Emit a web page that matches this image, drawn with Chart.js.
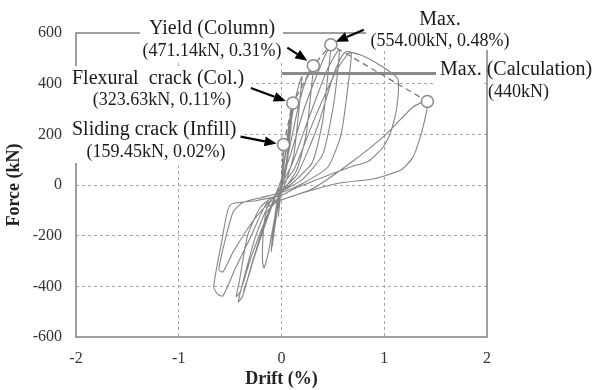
<!DOCTYPE html>
<html>
<head>
<meta charset="utf-8">
<script src="https://cdn.jsdelivr.net/npm/chart.js@4.4.1/dist/chart.umd.min.js"></script>
<style>
  html, body { margin: 0; padding: 0; background: #fff; }
</style>
</head>
<body>
<canvas id="forceDrift" width="600" height="390"></canvas>
<script>
// axis ticks
const xTicks = [-2, -1, 0, 1, 2];
const yTicks = [-600, -400, -200, 0, 200, 400, 600];

// cyclic test record, drift (%) vs. lateral force (kN)
const hysDrift = [
  0,
  0.01, 0.02, 0.012, 0.0, -0.015, -0.03, -0.02, -0.005,
  0.04, 0.08, 0.11, 0.09, 0.05, 0.0, -0.05, -0.09, -0.1, -0.08, -0.04, 0.0,
  0.05, 0.09, 0.1, 0.07, 0.03, -0.02, -0.07, -0.09, -0.06, -0.01,
  0.06, 0.13, 0.18, 0.2, 0.17, 0.12, 0.04, -0.06, -0.15, -0.18, -0.185, -0.17, -0.13, -0.08, -0.02,
  0.07, 0.17, 0.26, 0.31, 0.29, 0.24, 0.15, 0.03, -0.1, -0.22, -0.32, -0.37, -0.35, -0.28, -0.16, -0.05,
  0.08, 0.22, 0.38, 0.48, 0.45, 0.4, 0.3, 0.1, -0.1, -0.25, -0.36, -0.42, -0.38, -0.3, -0.17, -0.04,
  0.1, 0.28, 0.45, 0.56, 0.55, 0.5, 0.4, 0.2, 0.0, -0.2, -0.33, -0.41, -0.44, -0.4, -0.3, -0.15, -0.03,
  0.12, 0.32, 0.52, 0.64, 0.68, 0.65, 0.58, 0.45, 0.2, 0.0, -0.2, -0.38, -0.47, -0.55, -0.61, -0.57, -0.47, -0.27, -0.1, 0.0,
  0.15, 0.35, 0.52, 0.62, 0.77, 0.95, 1.13, 1.12, 1.06, 0.99, 0.85, 0.67, 0.4, 0.15, 0.0, -0.25, -0.5, -0.58, -0.66, -0.62, -0.57, -0.45, -0.3, -0.14, 0.0,
  0.3, 0.67, 1.01, 1.28, 1.42, 1.37, 1.28, 1.16, 0.9, 0.57, 0.3, 0.0, -0.15
];
const hysForce = [
  0,
  80, 159, 70, 5, -60, -125, -60, 0,
  130, 250, 324, 220, 70, -15, -120, -230, -262, -170, -60, 10,
  170, 290, 310, 170, 40, -50, -180, -240, -120, -10,
  170, 330, 410, 428, 300, 120, 10, -70, -110, -200, -300, -327, -270, -160, -30,
  130, 320, 440, 471, 380, 200, 60, -15, -90, -220, -360, -420, -400, -300, -150, -30,
  110, 300, 470, 554, 430, 250, 90, 5, -60, -200, -360, -461, -440, -330, -170, -30,
  80, 280, 460, 535, 460, 300, 120, 20, -25, -85, -200, -380, -440, -420, -290, -130, -20,
  60, 260, 440, 515, 522, 400, 200, 70, 5, -30, -50, -70, -106, -220, -335, -343, -264, -138, -60, -20,
  40, 230, 450, 525, 513, 475, 420, 300, 205, 150, 95, 71, 30, -10, -40, -62, -79, -220, -402, -432, -438, -330, -205, -70, -58,
  -15, 87, 197, 308, 330, 217, 110, 59, 25, 8, -20, -59, -90
];

// skeleton (envelope) points
const envDrift = [0, 0.02, 0.11, 0.31, 0.48, 1.42];
const envForce = [0, 159.45, 323.63, 471.14, 554.00, 330];

// labelled damage states
const eventNames = ['Sliding crack (Infill)', 'Flexural  crack (Col.)', 'Yield (Column)', 'Max.'];
const eventDrift = [0.02, 0.11, 0.31, 0.48];
const eventForce = [159.45, 323.63, 471.14, 554.00];

// calculated capacity
const calcForce = 440;
const calcDrift = [0, 1.53];

const pts = (xs, ys) => xs.map((v, i) => ({ x: v, y: ys[i] }));
const serif = 'Liberation Serif';

const notesPlugin = {
  id: 'notes',
  afterDatasetsDraw(chart) {
    const { ctx, chartArea: a, scales: { x, y } } = chart;
    ctx.save();

    // plot frame
    ctx.strokeStyle = '#808080';
    ctx.lineWidth = 1.5;
    ctx.strokeRect(a.left, a.top, a.right - a.left, a.bottom - a.top);

    // white backing behind the callouts
    ctx.fillStyle = '#fff';
    [[140, 14, 143, 47], [366, 4, 148, 46], [436, 55, 48, 43],
     [66, 66, 186, 49], [66, 115, 178, 48]].forEach(b => ctx.fillRect(b[0], b[1], b[2], b[3]));

    const stat = i => '(' + eventForce[i].toFixed(2) + 'kN, ' + eventDrift[i].toFixed(2) + '%)';
    const big = '20px "' + serif + '"';
    const small = '18px "' + serif + '"';
    ctx.fillStyle = '#1a1a1a';
    ctx.textBaseline = 'alphabetic';

    ctx.textAlign = 'center';
    ctx.font = big;
    ctx.fillText(eventNames[2], 212, 34);
    ctx.fillText(eventNames[3], 440, 25);
    ctx.font = small;
    ctx.fillText(stat(2), 212, 56);
    ctx.fillText(stat(3), 440, 46);
    ctx.fillText(stat(1), 162, 105);
    ctx.fillText(stat(0), 156, 157);

    ctx.textAlign = 'left';
    ctx.font = big;
    ctx.fillText(eventNames[1], 72, 84);
    ctx.fillText(eventNames[0], 72, 135);
    ctx.fillText('Max. (Calculation)', 440, 75);
    ctx.font = small;
    ctx.fillText('(' + calcForce + 'kN)', 488, 97);

    // arrows pointing at the labelled markers
    const arrows = [[-7, -1, -43, -8], [-7, -2, -42, -15], [-6, -5, -26, -18], [5, -3, 33, -15]];
    ctx.strokeStyle = '#000';
    ctx.fillStyle = '#000';
    ctx.lineWidth = 2.2;
    arrows.forEach((o, i) => {
      const px = x.getPixelForValue(eventDrift[i]);
      const py = y.getPixelForValue(eventForce[i]);
      const tx = px + o[0], ty = py + o[1];
      const sx = px + o[2], sy = py + o[3];
      const ang = Math.atan2(ty - sy, tx - sx);
      const hl = 12, hw = 5;
      const bx = tx - hl * Math.cos(ang), by = ty - hl * Math.sin(ang);
      ctx.beginPath();
      ctx.moveTo(sx, sy);
      ctx.lineTo(bx, by);
      ctx.stroke();
      ctx.beginPath();
      ctx.moveTo(tx, ty);
      ctx.lineTo(bx + hw * Math.sin(ang), by - hw * Math.cos(ang));
      ctx.lineTo(bx - hw * Math.sin(ang), by + hw * Math.cos(ang));
      ctx.closePath();
      ctx.fill();
    });
    ctx.restore();
  }
};

const gridColor = (ends) => c => ends.includes(c.tick.value) ? 'rgba(0,0,0,0)' : '#a8a8a8';

new Chart(document.getElementById('forceDrift'), {
  type: 'scatter',
  data: {
    datasets: [
      {
        label: 'markers',
        data: pts(envDrift.slice(1), envForce.slice(1)),
        showLine: false,
        pointRadius: 6,
        pointBackgroundColor: '#fff',
        pointBorderColor: '#8c8c8c',
        pointBorderWidth: 1.5,
        order: 0
      },
      {
        label: 'envelope',
        data: pts(envDrift, envForce),
        showLine: true,
        borderColor: '#7a7a7a',
        borderWidth: 1.3,
        borderDash: [6, 4],
        pointRadius: 0,
        order: 1
      },
      {
        label: 'calculation',
        data: pts(calcDrift, [calcForce, calcForce]),
        showLine: true,
        borderColor: '#8a8a8a',
        borderWidth: 3,
        pointRadius: 0,
        order: 2
      },
      {
        label: 'test',
        data: pts(hysDrift, hysForce),
        showLine: true,
        borderColor: '#858585',
        borderWidth: 1.1,
        tension: 0.2,
        pointRadius: 0,
        order: 3
      }
    ]
  },
  options: {
    responsive: false,
    animation: false,
    layout: { padding: { left: 0, right: 113, top: 33, bottom: 0 } },
    plugins: { legend: { display: false }, tooltip: { enabled: false } },
    scales: {
      x: {
        type: 'linear',
        min: -2, max: 2,
        afterBuildTicks: s => { s.ticks = xTicks.map(v => ({ value: v })); },
        afterFit: s => { s.height = 53; },
        grid: { color: gridColor([-2, 2]), lineWidth: 1, drawTicks: false },
        border: { display: false, dash: [3, 3] },
        ticks: { padding: 12, color: '#333', font: { family: serif, size: 16 } },
        title: { display: true, text: 'Drift (%)', color: '#222', padding: { top: 0, bottom: 0 },
                 font: { family: serif, size: 18, weight: 'bold' } }
      },
      y: {
        type: 'linear',
        min: -600, max: 600,
        afterBuildTicks: s => { s.ticks = yTicks.map(v => ({ value: v })); },
        afterFit: s => { s.width = 76; },
        grid: { color: gridColor([-600, 600]), lineWidth: 1, drawTicks: false },
        border: { display: false, dash: [3, 3] },
        ticks: { padding: 14, color: '#333', font: { family: serif, size: 16 } },
        title: { display: true, text: 'Force (kN)', color: '#222', padding: { top: 4, bottom: 0 },
                 font: { family: serif, size: 18, weight: 'bold' } }
      }
    }
  },
  plugins: [notesPlugin]
});
</script>
</body>
</html>
